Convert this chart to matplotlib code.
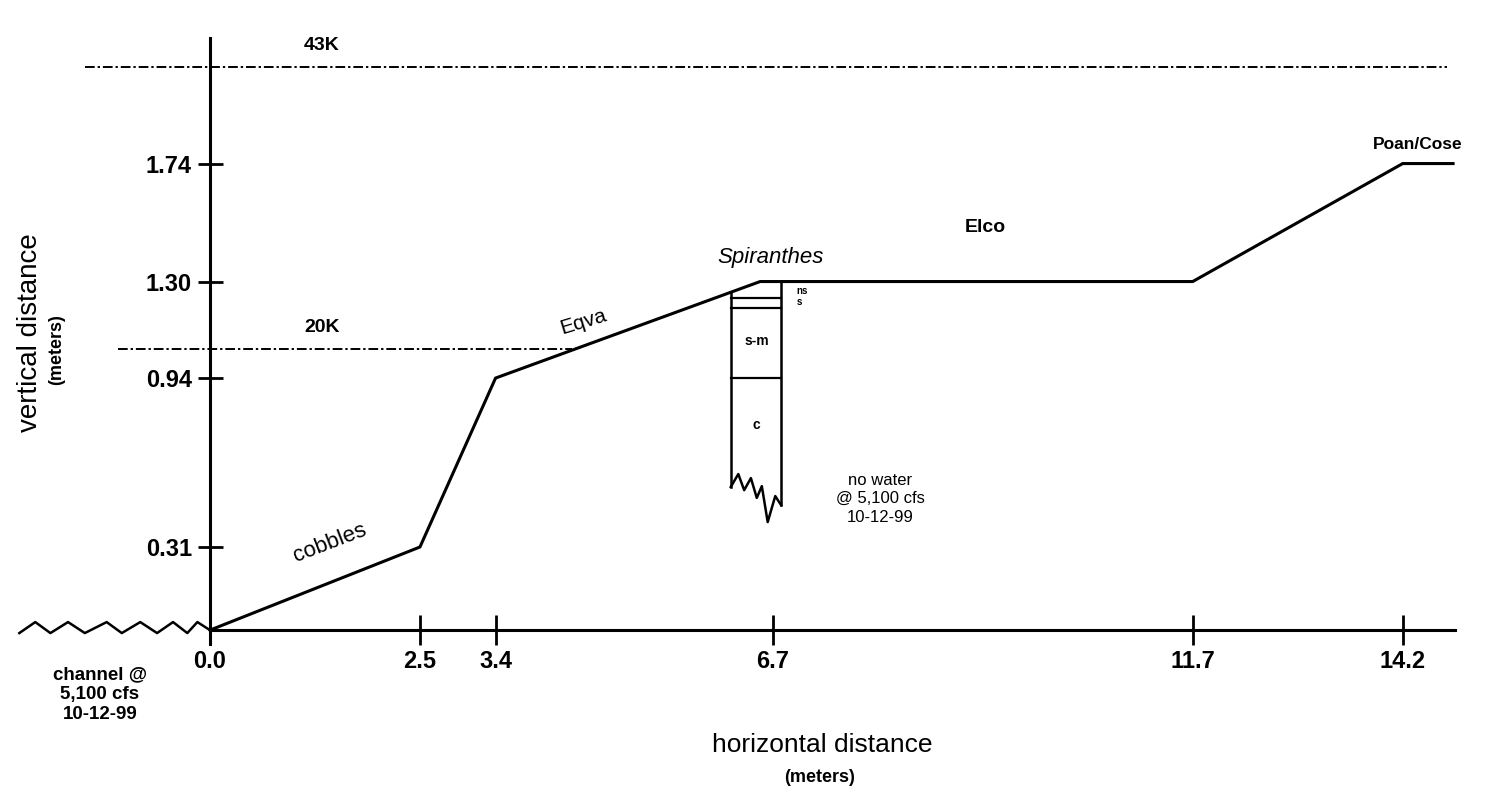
import matplotlib.pyplot as plt

plt.rcParams['font.family'] = ['Liberation Sans', 'DejaVu Sans']

# ground profile (meters)
profile_x = [0.0, 2.5, 3.4, 6.55, 11.7, 14.2, 14.8]
profile_y = [0.0, 0.31, 0.94, 1.30, 1.30, 1.74, 1.74]

# wavy channel line to the left of the origin
channel_x = [-2.27, -2.08, -1.90, -1.69, -1.49, -1.23, -1.05, -0.83, -0.63, -0.44, -0.27, -0.15, 0.0]
channel_y = [-0.011, 0.03, -0.011, 0.03, -0.011, 0.03, -0.011, 0.03, -0.011, 0.03, -0.011, 0.03, 0.0]

# flood levels
flood_names = ['43K', '20K']
flood_y = [2.10, 1.05]
flood_start = [-1.49, -1.10]
flood_end = [14.73, 4.31]

# soil pit
pit_left, pit_right = 6.2, 6.8
pit_top_left, pit_top_right = 1.26, 1.30
pit_layers = [1.24, 1.20, 0.94]
pit_bottom_x = [6.20, 6.29, 6.36, 6.44, 6.51, 6.57, 6.64, 6.73, 6.80]
pit_bottom_y = [0.534, 0.582, 0.522, 0.567, 0.493, 0.537, 0.403, 0.500, 0.466]

xticks = [0.0, 2.5, 3.4, 6.7, 11.7, 14.2]
xtick_labels = ['0.0', '2.5', '3.4', '6.7', '11.7', '14.2']
yticks = [0.31, 0.94, 1.30, 1.74]
ytick_labels = ['0.31', '0.94', '1.30', '1.74']

fig = plt.figure(figsize=(15.06, 7.91), dpi=100)
ax = fig.add_axes([0, 0, 1, 1])
ax.set_xlim(-2.5, 15.43)
ax.set_ylim(-0.60, 2.35)

# profile line
ax.plot(profile_x, profile_y, color='black', lw=2.2, solid_joinstyle='miter')
ax.plot(channel_x, channel_y, color='black', lw=1.8)

# flood lines
for name, y, x0, x1 in zip(flood_names, flood_y, flood_start, flood_end):
    ax.plot([x0, x1], [y, y], color='black', lw=1.4, linestyle=(0, (5, 1.5, 1.2, 1.5)))
    ax.text(1.33, y + 0.08, name, ha='center', va='center', fontsize=14, fontweight='bold')

# soil pit outline
ax.plot([pit_left, pit_left], [pit_top_left, pit_bottom_y[0]], color='black', lw=1.8)
ax.plot([pit_right, pit_right], [pit_top_right, pit_bottom_y[-1]], color='black', lw=1.8)
ax.plot(pit_bottom_x, pit_bottom_y, color='black', lw=1.8)
for ly in pit_layers:
    ax.plot([pit_left, pit_right], [ly, ly], color='black', lw=1.6)
ax.text(6.51, 1.08, 's-m', ha='center', va='center', fontsize=10, fontweight='bold')
ax.text(6.51, 0.765, 'c', ha='center', va='center', fontsize=10, fontweight='bold')
ax.text(6.98, 1.265, 'ns', ha='left', va='center', fontsize=7, fontweight='bold')
ax.text(6.98, 1.225, 's', ha='left', va='center', fontsize=7, fontweight='bold')

# annotations
ax.text(1.43, 0.325, 'cobbles', rotation=21, ha='center', va='center', fontsize=16)
ax.text(4.44, 1.15, 'Eqva', rotation=17, ha='center', va='center', fontsize=15)
ax.text(6.67, 1.39, 'Spiranthes', style='italic', ha='center', va='center', fontsize=16)
ax.text(9.23, 1.50, 'Elco', ha='center', va='center', fontsize=14, fontweight='bold')
ax.text(14.38, 1.81, 'Poan/Cose', ha='center', va='center', fontsize=12.5, fontweight='bold')
ax.text(7.98, 0.49, 'no water\n@ 5,100 cfs\n10-12-99', ha='center', va='center',
        fontsize=12, linespacing=1.3)
ax.text(-1.31, -0.24, 'channel @\n5,100 cfs\n10-12-99', ha='center', va='center',
        fontsize=13.5, fontweight='bold', linespacing=1.2)

# axes lines
for side in ['top', 'right']:
    ax.spines[side].set_visible(False)
ax.spines['left'].set_position(('data', 0))
ax.spines['bottom'].set_position(('data', 0))
ax.spines['left'].set_bounds(-0.05, 2.21)
ax.spines['bottom'].set_bounds(0, 14.82)
ax.spines['left'].set_linewidth(2.2)
ax.spines['bottom'].set_linewidth(2.2)

ax.set_xticks(xticks, xtick_labels)
ax.set_yticks(yticks, ytick_labels)
ax.tick_params(axis='x', direction='inout', length=21, width=2, pad=4, labelsize=17)
ax.tick_params(axis='y', direction='inout', length=18, width=2, pad=4, labelsize=17)
for lbl in ax.get_xticklabels() + ax.get_yticklabels():
    lbl.set_fontweight('bold')

ax.text(7.29, -0.43, 'horizontal distance', ha='center', va='center', fontsize=19)
ax.text(7.26, -0.55, '(meters)', ha='center', va='center', fontsize=13, fontweight='bold')
ax.text(-2.14, 1.108, 'vertical distance', rotation=90, ha='center', va='center', fontsize=20)
ax.text(-1.82, 1.045, '(meters)', rotation=90, ha='center', va='center', fontsize=13, fontweight='bold')

fig.savefig('out.png', dpi=100)
